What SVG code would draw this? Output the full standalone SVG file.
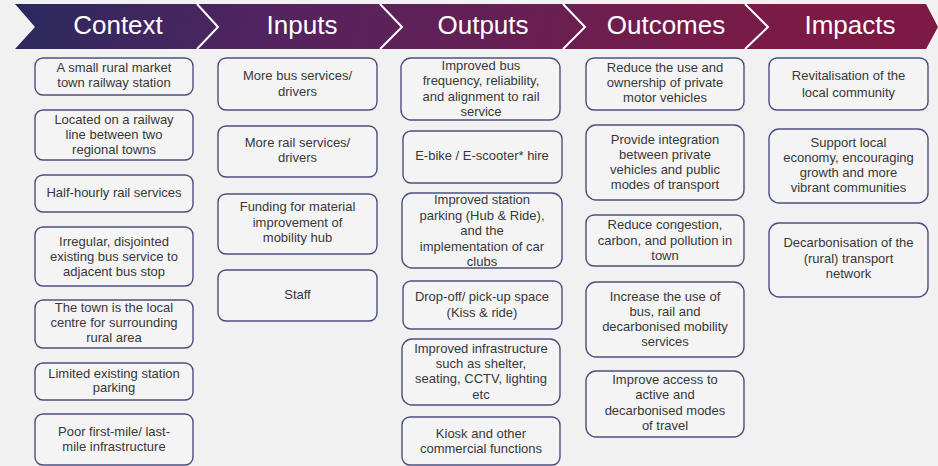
<svg xmlns="http://www.w3.org/2000/svg" width="938" height="466" viewBox="0 0 938 466">
<defs>
<linearGradient id="hdr" gradientUnits="userSpaceOnUse" x1="15" y1="0" x2="750" y2="200">
<stop offset="0" stop-color="#2a2a5e"/>
<stop offset="0.35" stop-color="#55235f"/>
<stop offset="1" stop-color="#7c1a45"/>
</linearGradient>
<style>
.box{fill:#f4f4f4;stroke:#4c507e;stroke-width:1.4}
.t{font-family:"Liberation Sans",Arial,sans-serif;font-size:13px;fill:#383838;text-anchor:middle}
.h{font-family:"Liberation Sans",Arial,sans-serif;font-size:26px;fill:#ffffff;text-anchor:middle}
.sep{fill:none;stroke:#ffffff;stroke-width:2}
</style>
</defs>
<rect width="938" height="466" fill="#f1f1f1"/>
<g id="header">
<polygon points="15,4 926,4 938,27 926,49 15,49 35,27" fill="url(#hdr)"/>
<polyline class="sep" points="197,4 218,27 197,49"/>
<polyline class="sep" points="380,4 402,27 380,49"/>
<polyline class="sep" points="563,4 585,27 563,49"/>
<polyline class="sep" points="745,4 768,27 745,49"/>
<text class="h" x="118" y="34">Context</text>
<text class="h" x="302" y="34">Inputs</text>
<text class="h" x="483" y="34">Outputs</text>
<text class="h" x="666" y="34">Outcomes</text>
<text class="h" x="850" y="34">Impacts</text>
</g>
<g id="connectors"></g>
<g id="context">
<g id="c1"><rect class="box" x="35" y="58" width="158" height="37" rx="8"/><text class="t"><tspan x="114" y="72">A small rural market</tspan><tspan x="114" y="87">town railway station</tspan></text></g>
<g id="c2"><rect class="box" x="35" y="110" width="158" height="50" rx="8"/><text class="t"><tspan x="114" y="124">Located on a railway</tspan><tspan x="114" y="139">line between two</tspan><tspan x="114" y="154">regional towns</tspan></text></g>
<g id="c3"><rect class="box" x="35" y="175" width="158" height="37" rx="8"/><text class="t"><tspan x="114" y="197">Half-hourly rail services</tspan></text></g>
<g id="c4"><rect class="box" x="35" y="227" width="158" height="59" rx="8"/><text class="t"><tspan x="114" y="246">Irregular, disjointed</tspan><tspan x="114" y="261">existing bus service to</tspan><tspan x="114" y="276">adjacent bus stop</tspan></text></g>
<g id="c5"><rect class="box" x="35" y="300" width="158" height="48" rx="8"/><text class="t"><tspan x="114" y="312">The town is the local</tspan><tspan x="114" y="327">centre for surrounding</tspan><tspan x="114" y="342">rural area</tspan></text></g>
<g id="c6"><rect class="box" x="35" y="363" width="158" height="37" rx="8"/><text class="t"><tspan x="114" y="378">Limited existing station</tspan><tspan x="114" y="392">parking</tspan></text></g>
<g id="c7"><rect class="box" x="35" y="414" width="158" height="51" rx="8"/><text class="t"><tspan x="114" y="436">Poor first-mile/ last-</tspan><tspan x="114" y="451">mile infrastructure</tspan></text></g>
</g>
<g id="inputs">
<g id="i1"><rect class="box" x="218" y="58" width="159" height="52" rx="8"/><text class="t"><tspan x="297.5" y="80">More bus services/</tspan><tspan x="297.5" y="96">drivers</tspan></text></g>
<g id="i2"><rect class="box" x="218" y="126" width="159" height="51" rx="8"/><text class="t"><tspan x="297.5" y="147">More rail services/</tspan><tspan x="297.5" y="162">drivers</tspan></text></g>
<g id="i3"><rect class="box" x="218" y="194" width="159" height="60" rx="8"/><text class="t"><tspan x="297.5" y="211">Funding for material</tspan><tspan x="297.5" y="227">improvement of</tspan><tspan x="297.5" y="242">mobility hub</tspan></text></g>
<g id="i4"><rect class="box" x="218" y="270" width="159" height="51" rx="8"/><text class="t"><tspan x="297.5" y="299">Staff</tspan></text></g>
</g>
<g id="outputs">
<g id="o1"><rect class="box" x="401" y="58" width="159" height="62" rx="10"/><text class="t"><tspan x="481" y="70">Improved bus</tspan><tspan x="481" y="85">frequency, reliability,</tspan><tspan x="481" y="101">and alignment to rail</tspan><tspan x="481" y="116">service</tspan></text></g>
<g id="o2"><rect class="box" x="403" y="131" width="159" height="52" rx="8"/><text class="t"><tspan x="482" y="160">E-bike / E-scooter* hire</tspan></text></g>
<g id="o3"><rect class="box" x="402" y="193" width="160" height="75" rx="10"/><text class="t"><tspan x="482" y="204">Improved station</tspan><tspan x="482" y="220">parking (Hub &amp; Ride),</tspan><tspan x="482" y="235">and the</tspan><tspan x="482" y="251">implementation of car</tspan><tspan x="482" y="266">clubs</tspan></text></g>
<g id="o4"><rect class="box" x="403" y="281" width="159" height="48" rx="8"/><text class="t"><tspan x="482" y="301">Drop-off/ pick-up space</tspan><tspan x="482" y="317">(Kiss &amp; ride)</tspan></text></g>
<g id="o5"><rect class="box" x="402" y="339" width="158" height="66" rx="10"/><text class="t"><tspan x="481" y="353">Improved infrastructure</tspan><tspan x="481" y="368">such as shelter,</tspan><tspan x="481" y="383">seating, CCTV, lighting</tspan><tspan x="481" y="399">etc</tspan></text></g>
<g id="o6"><rect class="box" x="402" y="417" width="158" height="48" rx="8"/><text class="t"><tspan x="481" y="438">Kiosk and other</tspan><tspan x="481" y="453">commercial functions</tspan></text></g>
</g>
<g id="outcomes">
<g id="u1"><rect class="box" x="586" y="58" width="158" height="52" rx="8"/><text class="t"><tspan x="665" y="72">Reduce the use and</tspan><tspan x="665" y="87">ownership of private</tspan><tspan x="665" y="102">motor vehicles</tspan></text></g>
<g id="u2"><rect class="box" x="586" y="125" width="158" height="75" rx="10"/><text class="t"><tspan x="665" y="144">Provide integration</tspan><tspan x="665" y="159">between private</tspan><tspan x="665" y="174">vehicles and public</tspan><tspan x="665" y="189">modes of transport</tspan></text></g>
<g id="u3"><rect class="box" x="586" y="215" width="158" height="51" rx="8"/><text class="t"><tspan x="665" y="229">Reduce congestion,</tspan><tspan x="665" y="245">carbon, and pollution in</tspan><tspan x="665" y="260">town</tspan></text></g>
<g id="u4"><rect class="box" x="586" y="282" width="158" height="75" rx="10"/><text class="t"><tspan x="665" y="301">Increase the use of</tspan><tspan x="665" y="316">bus, rail and</tspan><tspan x="665" y="331">decarbonised mobility</tspan><tspan x="665" y="346">services</tspan></text></g>
<g id="u5"><rect class="box" x="586" y="371" width="158" height="66" rx="10"/><text class="t"><tspan x="665" y="384">Improve access to</tspan><tspan x="665" y="399">active and</tspan><tspan x="665" y="415">decarbonised modes</tspan><tspan x="665" y="430">of travel</tspan></text></g>
</g>
<g id="impacts">
<g id="m1"><rect class="box" x="769" y="58" width="159" height="52" rx="8"/><text class="t"><tspan x="848.5" y="80">Revitalisation of the</tspan><tspan x="848.5" y="97">local community</tspan></text></g>
<g id="m2"><rect class="box" x="769" y="129" width="159" height="74" rx="10"/><text class="t"><tspan x="848.5" y="147">Support local</tspan><tspan x="848.5" y="162">economy, encouraging</tspan><tspan x="848.5" y="177">growth and more</tspan><tspan x="848.5" y="192">vibrant communities</tspan></text></g>
<g id="m3"><rect class="box" x="769" y="223" width="159" height="74" rx="10"/><text class="t"><tspan x="848.5" y="247">Decarbonisation of the</tspan><tspan x="848.5" y="263">(rural) transport</tspan><tspan x="848.5" y="278">network</tspan></text></g>
</g>
</svg>
